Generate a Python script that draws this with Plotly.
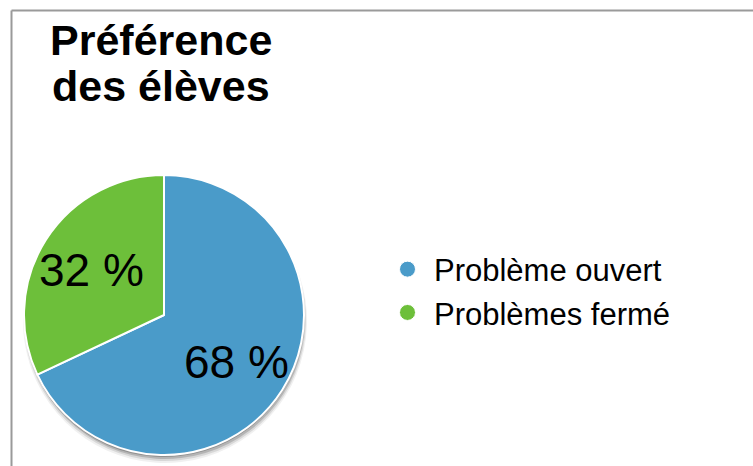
import plotly.graph_objects as go
import math

labels = ["Problème ouvert", "Problèmes fermé"]
values = [68, 32]
colors = ["#4A9BC9", "#6DBF3A"]
title_lines = ["Préférence", "des élèves"]

W, H = 753, 466
cx, cy, r = 164, 315, 140  # pie centre/radius in px (from top-left)
FONT = "Liberation Sans, Arial, Helvetica, sans-serif"

def dom(dx=0, dy=0, dr=0):
    rr = r + dr
    x0 = (cx + dx - rr) / W
    x1 = (cx + dx + rr) / W
    y0 = (H - (cy + dy) - rr) / H
    y1 = (H - (cy + dy) + rr) / H
    return dict(x=[x0, x1], y=[y0, y1])

fig = go.Figure()

# soft drop shadow layers
for dx, dy, dr, a in [(1, 6, 2, 0.06), (1, 5, 1, 0.10), (1, 4, 0, 0.16), (0, 2, 0, 0.2)]:
    fig.add_trace(go.Pie(
        values=values, labels=labels, sort=False, direction="clockwise",
        marker=dict(colors=[f"rgba(0,0,0,{a})"] * len(values), line=dict(width=0)),
        textinfo="none", hoverinfo="skip", showlegend=False, domain=dom(dx, dy, dr),
    ))

fig.add_trace(go.Pie(
    values=values, labels=labels, sort=False, direction="clockwise",
    marker=dict(colors=colors, line=dict(color="white", width=2)),
    textinfo="none", showlegend=False, domain=dom(),
))

# legend entries with circle symbols
for lab, col in zip(labels, colors):
    fig.add_trace(go.Scatter(
        x=[None], y=[None], mode="markers", name=lab,
        marker=dict(symbol="circle", size=22, color=col, line=dict(color="white", width=1)),
    ))

# percentage labels at slice bisectors
annotations = []
total = sum(values)
start = 0.0
for v in values:
    mid = (start + v / 2) / total * 2 * math.pi
    start += v
    px = cx + 0.61 * r * math.sin(mid)
    py = cy - 0.61 * r * math.cos(mid)
    annotations.append(dict(
        x=px / W, y=1 - (py + 1) / H, xref="paper", yref="paper",
        text=f"{round(v / total * 100)} %", showarrow=False,
        font=dict(family=FONT, size=46, color="black"),
        xanchor="center", yanchor="middle",
    ))

for i, line in enumerate(title_lines):
    annotations.append(dict(
        x=161 / W, y=1 - (40 + 46 * i) / H, xref="paper", yref="paper",
        text=f"<b>{line}</b>", showarrow=False, align="center",
        font=dict(family=FONT, size=43, color="black"),
        xanchor="center", yanchor="middle",
    ))

fig.update_layout(
    width=W, height=H,
    margin=dict(l=0, r=0, t=0, b=0),
    paper_bgcolor="white", plot_bgcolor="white",
    xaxis=dict(visible=False), yaxis=dict(visible=False),
    annotations=annotations,
    legend=dict(
        x=381 / W, y=1 - 291 / H, xanchor="left", yanchor="middle",
        font=dict(family=FONT, size=31, color="black"),
        bgcolor="rgba(0,0,0,0)", itemsizing="trace", tracegroupgap=0, itemwidth=43,
    ),
    shapes=[
        dict(type="line", xref="paper", yref="paper", x0=11.5 / W, x1=1, y0=1 - 10.5 / H, y1=1 - 10.5 / H,
             line=dict(color="#9a9a9a", width=2)),
        dict(type="line", xref="paper", yref="paper", x0=11.5 / W, x1=11.5 / W, y0=0, y1=1 - 10.5 / H,
             line=dict(color="#9a9a9a", width=2)),
    ],
)

fig.write_html(
    "out.html",
    config={"displayModeBar": False},
    post_script="document.body.style.margin='0';document.body.style.overflow='hidden';",
)
